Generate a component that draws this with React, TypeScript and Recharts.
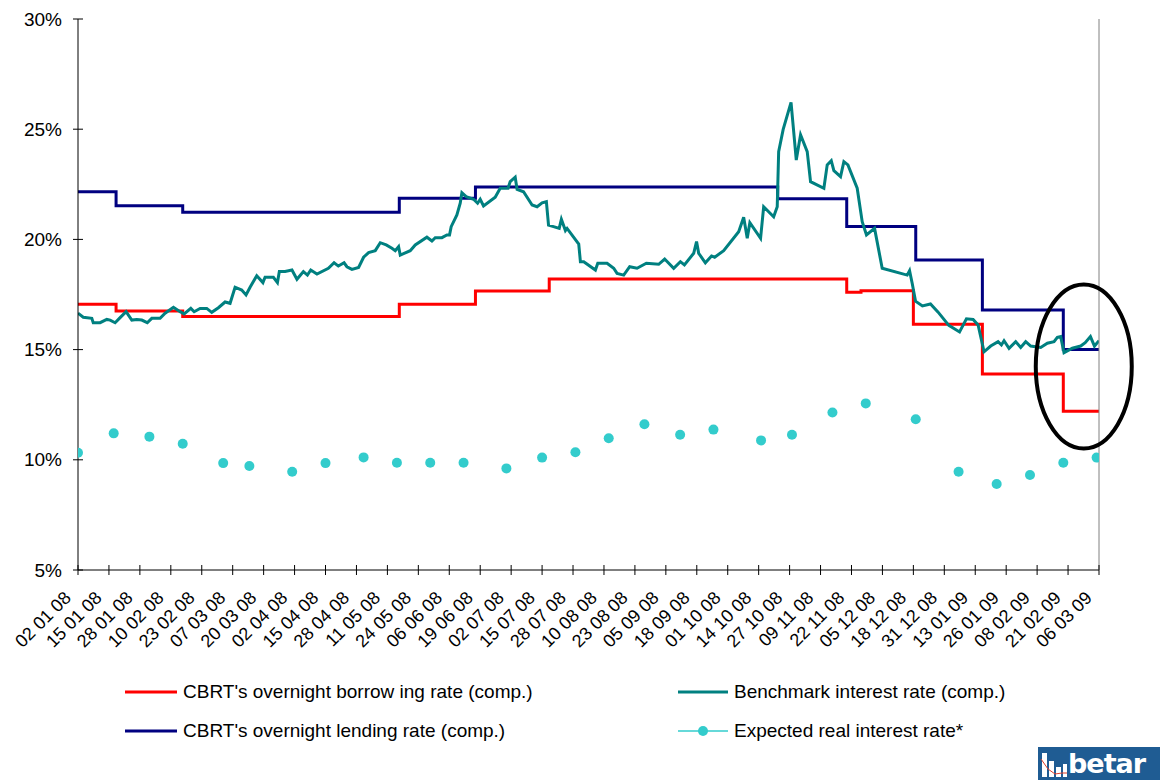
import React from 'react';
import { ComposedChart, Line, XAxis, YAxis, Legend, ReferenceDot } from 'recharts';

// x values are days counted from 02 01 08
const tickLabels = [
  '02 01 08', '15 01 08', '28 01 08', '10 02 08', '23 02 08', '07 03 08', '20 03 08',
  '02 04 08', '15 04 08', '28 04 08', '11 05 08', '24 05 08', '06 06 08', '19 06 08',
  '02 07 08', '15 07 08', '28 07 08', '10 08 08', '23 08 08', '05 09 08', '18 09 08',
  '01 10 08', '14 10 08', '27 10 08', '09 11 08', '22 11 08', '05 12 08', '18 12 08',
  '31 12 08', '13 01 09', '26 01 09', '08 02 09', '21 02 09', '06 03 09',
];
const tickDays = [
  0, 13, 26, 39, 52, 65, 78, 91, 104, 117, 130, 143, 156, 169, 182, 195, 208,
  221, 234, 247, 260, 273, 286, 299, 312, 325, 338, 351, 364, 377, 390, 403, 416, 429,
];
const yTicks = [5, 10, 15, 20, 25, 30];

const borrowingRate = [
  [0, 17.06], [16, 16.75], [44, 16.5], [135, 17.06], [167, 17.66], [198, 18.2],
  [323, 17.6], [329, 17.67], [351, 16.15], [380, 13.89], [414, 12.2], [429, 12.2],
];

const lendingRate = [
  [0, 22.16], [16, 21.53], [44, 21.23], [135, 21.87], [167, 22.38], [294, 21.85],
  [323, 20.58], [352, 19.07], [380, 16.8], [414, 15.0], [429, 15.0],
];

const benchmarkRate = [
  [0, 16.65], [2.2, 16.47], [5.8, 16.42], [6.4, 16.22], [9.3, 16.22], [12.1, 16.37], [13.5, 16.34],
  [15.6, 16.22], [17.7, 16.45], [20.2, 16.72], [22.6, 16.34], [24.7, 16.37], [26.8, 16.34],
  [29.1, 16.22], [31, 16.42], [34.5, 16.42], [36.6, 16.65], [40.1, 16.92], [42.9, 16.72],
  [44.6, 16.62], [47.4, 16.87], [48.8, 16.72], [51.3, 16.87], [54.1, 16.87], [56.2, 16.69],
  [59, 16.9], [61.8, 17.16], [63.9, 17.1], [66, 17.83], [68.8, 17.7], [70.6, 17.48], [72.3, 17.83],
  [75.1, 18.35], [77.7, 18.04], [78.6, 18.28], [82.1, 18.28], [83.8, 18.04], [84.6, 18.54],
  [87, 18.54], [89.9, 18.61], [92, 18.19], [94.7, 18.54], [96.4, 18.38], [97.8, 18.61],
  [100.4, 18.43], [105.2, 18.69], [107.6, 18.94], [109.4, 18.79], [111.8, 18.94], [113, 18.76],
  [115.1, 18.64], [117.9, 18.73], [120, 19.19], [122.1, 19.4], [124.9, 19.49], [127, 19.85],
  [129.5, 19.75], [131.9, 19.6], [133.3, 19.49], [134.7, 19.67], [135.4, 19.29], [139.6, 19.49],
  [141.7, 19.75], [146.6, 20.1], [148.7, 19.93], [150.1, 20.08], [152.9, 20.08], [155, 20.2],
  [156.1, 20.2], [156.8, 20.58], [159.2, 21.11], [160.6, 21.64], [161.3, 22.12], [163.1, 21.94],
  [166.2, 21.82], [167.9, 21.64], [169, 21.82], [170.4, 21.52], [175.3, 21.91], [177.4, 22.32],
  [180.7, 22.32], [181.6, 22.62], [183.7, 22.82], [184.5, 22.27], [187.2, 22.16], [190.8, 21.56],
  [192.9, 21.48], [195, 21.66], [196.8, 21.71], [197.7, 20.65], [199.8, 20.58], [202.2, 20.5],
  [203.1, 20.91], [204.8, 20.4], [205.5, 20.5], [210.4, 19.79], [211.1, 18.99], [212.5, 18.99],
  [217.4, 18.61], [218.4, 18.92], [222.3, 18.92], [225.1, 18.69], [226.5, 18.46], [229.3, 18.38],
  [231.8, 18.76], [234.9, 18.69], [238.8, 18.92], [244, 18.87], [246.5, 19.11], [250.3, 18.69],
  [253.1, 18.99], [254.8, 18.84], [258.7, 19.37], [259.9, 19.9], [260.8, 19.37], [263.6, 18.94],
  [266.2, 19.25], [267.5, 19.19], [271.3, 19.49], [277.6, 20.35], [279.7, 21], [281.2, 20.05],
  [282.3, 20.76], [286.8, 20.05], [288.1, 21.48], [292.3, 21.03], [293.8, 21.48], [294.4, 23.98],
  [296.3, 24.99], [299.6, 26.22], [301.8, 23.6], [303.6, 24.75], [306.4, 23.98], [307.8, 22.62],
  [313.4, 22.32], [314.8, 23.38], [316.5, 23.57], [317.6, 23.12], [320.4, 22.85], [321.8, 23.53],
  [323.5, 23.38], [327.4, 22.32], [329.5, 20.8], [331.3, 20.2], [334.7, 20.5], [337.9, 18.69],
  [348.4, 18.38], [349.4, 18.58], [350.5, 18.01], [351.9, 17.2], [354.8, 16.98], [358.2, 17.07],
  [361.4, 16.7], [365.9, 16.1], [370.4, 15.8], [373.3, 16.4], [376.1, 16.37], [378.2, 16.12],
  [379.3, 15.59], [380.7, 14.9], [383.5, 15.16], [386.6, 15.36], [388, 15.21], [389.1, 15.4],
  [391.2, 15.06], [394, 15.36], [396.1, 15.1], [398.2, 15.36], [400.3, 15.16], [404.5, 15.1],
  [407.3, 15.29], [410.1, 15.36], [411.5, 15.56], [412.9, 15.59], [414.3, 14.86], [417.8, 15.06],
  [421.3, 15.16], [423.2, 15.31], [425.4, 15.59], [427.1, 15.16], [429, 15.4],
];

const expectedRealRate = [
  [0, 10.32], [15, 11.2], [30, 11.05], [44, 10.73], [61, 9.85], [72, 9.72], [90, 9.46],
  [104, 9.85], [120, 10.11], [134, 9.87], [148, 9.87], [162, 9.87], [180, 9.61], [195, 10.1],
  [209, 10.34], [223, 10.98], [238, 11.61], [253, 11.14], [267, 11.37], [287, 10.88],
  [300, 11.14], [317, 12.15], [331, 12.56], [352, 11.84], [370, 9.46], [386, 8.9], [400, 9.31],
  [414, 9.87], [428, 10.1],
];

// circled area at the end of the series
const circleCenter = { day: 422.6, v: 14.23 };

const NAME_BORROW = "CBRT's overnight borrow ing rate (comp.)";
const NAME_LEND = "CBRT's overnight lending rate (comp.)";
const NAME_BENCH = 'Benchmark interest rate (comp.)';
const NAME_EXP = 'Expected real interest rate*';

// legend slot: [column, row]
const legendSlots: Record<string, [number, number]> = {
  [NAME_BORROW]: [0, 0],
  [NAME_LEND]: [0, 1],
  [NAME_BENCH]: [1, 0],
  [NAME_EXP]: [1, 1],
};

const toRows = (list: number[][]) => list.map(([day, v]) => ({ day, v }));

const FONT = '"Liberation Sans", Arial, sans-serif';

const XTick = (props: any) => {
  const { x, y, payload } = props;
  const label = tickLabels[tickDays.indexOf(payload.value)];
  const tx = x - 6;
  const ty = y + 29;
  return (
    <g>
      <line x1={x} x2={x} y1={y - 5} y2={y + 5} stroke="#000" />
      <text x={tx} y={ty} transform={`rotate(-45 ${tx} ${ty})`} textAnchor="end"
        fontSize={18} fontFamily={FONT} fill="#000">
        {label}
      </text>
    </g>
  );
};

const LeftTick = (props: any) => {
  const { x, y, payload } = props;
  return (
    <g>
      <line x1={x - 5} x2={x + 5} y1={y} y2={y} stroke="#000" />
      <text x={x - 16} y={y} textAnchor="end" dominantBaseline="central"
        fontSize={19} fontFamily={FONT} fill="#000">
        {payload.value}%
      </text>
    </g>
  );
};

const RightTick = (props: any) => {
  const { x, y, payload } = props;
  return (
    <g>
      <line x1={x - 5} x2={x + 5} y1={y} y2={y} stroke="#808080" />
      <text x={x + 16} y={y} textAnchor="start" dominantBaseline="central"
        fontSize={19} fontFamily={FONT} fill="#000">
        {payload.value}%
      </text>
    </g>
  );
};

const renderLegend = (props: any) => {
  const items = props.payload || [];
  return (
    <div style={{ position: 'relative', width: 1152, height: 90, fontFamily: FONT }}>
      {items.map((entry: any) => {
        const slot = legendSlots[entry.value] || [0, 0];
        const col = slot[0];
        const row = slot[1];
        const left = col === 0 ? 117 : 670;
        const lineW = col === 0 ? 52 : 50;
        const top = row === 0 ? 24 : 63;
        const isDots = entry.value === NAME_EXP;
        return (
          <div key={entry.value} style={{ position: 'absolute', left, top: top - 12, height: 24, display: 'flex', alignItems: 'center' }}>
            <svg width={lineW} height={24}>
              <line x1={0} x2={lineW} y1={12} y2={12} stroke={entry.color} strokeWidth={isDots ? 1.5 : 3} />
              {isDots && <circle cx={lineW / 2} cy={12} r={5} fill={entry.color} />}
            </svg>
            <span style={{ marginLeft: 6, fontSize: 19, color: '#000', whiteSpace: 'nowrap' }}>{entry.value}</span>
          </div>
        );
      })}
    </div>
  );
};

const Ellipse = (props: any) => (
  <ellipse cx={props.cx} cy={props.cy} rx={48} ry={82} fill="none" stroke="#000" strokeWidth={4} />
);

export default function App() {
  return (
    <div style={{ position: 'relative', width: 1152, height: 764, fontFamily: FONT }}>
      <ComposedChart width={1152} height={764} margin={{ top: 11, right: 0, bottom: 52, left: 0 }}>
        <XAxis type="number" dataKey="day" domain={[0, 429]} ticks={tickDays} interval={0}
          allowDataOverflow height={60} axisLine={{ stroke: '#000' }} tickLine={false}
          tickSize={0} tickMargin={0} tick={<XTick />} />
        <YAxis yAxisId="left" orientation="left" domain={[5, 30]} ticks={yTicks} width={70}
          axisLine={{ stroke: '#000' }} tickLine={false} tickSize={0} tickMargin={0} tick={<LeftTick />} />
        <YAxis yAxisId="right" orientation="right" domain={[5, 30]} ticks={yTicks} width={61}
          axisLine={{ stroke: '#808080' }} tickLine={false} tickSize={0} tickMargin={0} tick={<RightTick />} />
        <Line yAxisId="left" data={toRows(borrowingRate)} dataKey="v" name={NAME_BORROW}
          type="stepAfter" stroke="#FF0000" strokeWidth={3} dot={false} isAnimationActive={false} />
        <Line yAxisId="left" data={toRows(lendingRate)} dataKey="v" name={NAME_LEND}
          type="stepAfter" stroke="#000080" strokeWidth={3} dot={false} isAnimationActive={false} />
        <Line yAxisId="left" data={toRows(benchmarkRate)} dataKey="v" name={NAME_BENCH}
          type="linear" stroke="#008080" strokeWidth={3} dot={false} isAnimationActive={false} />
        <Line yAxisId="left" data={toRows(expectedRealRate)} dataKey="v" name={NAME_EXP}
          type="linear" stroke="#33CCCC" strokeWidth={0} strokeOpacity={0}
          dot={{ r: 5, fill: '#33CCCC', stroke: 'none' }} activeDot={false} isAnimationActive={false} />
        <ReferenceDot yAxisId="left" x={circleCenter.day} y={circleCenter.v} shape={<Ellipse />} />
        <Legend content={renderLegend} wrapperStyle={{ left: 0, top: 660, width: 1152, height: 90 }} />
      </ComposedChart>
      <div style={{
        position: 'fixed', right: 0, bottom: 0, width: 122, height: 33, background: '#1F5C93',
        display: 'flex', alignItems: 'center', overflow: 'hidden',
      }}>
        <svg width={30} height={33}>
          <rect x={4} y={6} width={5} height={24} fill="#fff" />
          <rect x={11} y={14} width={5} height={16} fill="#fff" />
          <rect x={18} y={20} width={5} height={10} fill="#fff" />
          <rect x={25} y={17} width={4} height={13} fill="#fff" />
          <polyline points="3,12 10,22 17,27 24,26 29,26" fill="none" stroke="#E0402A" strokeWidth={1} />
        </svg>
        <span style={{ color: '#fff', fontWeight: 'bold', fontSize: 27, lineHeight: '33px', fontFamily: '"DejaVu Sans", sans-serif', letterSpacing: -1 }}>betar</span>
      </div>
    </div>
  );
}
